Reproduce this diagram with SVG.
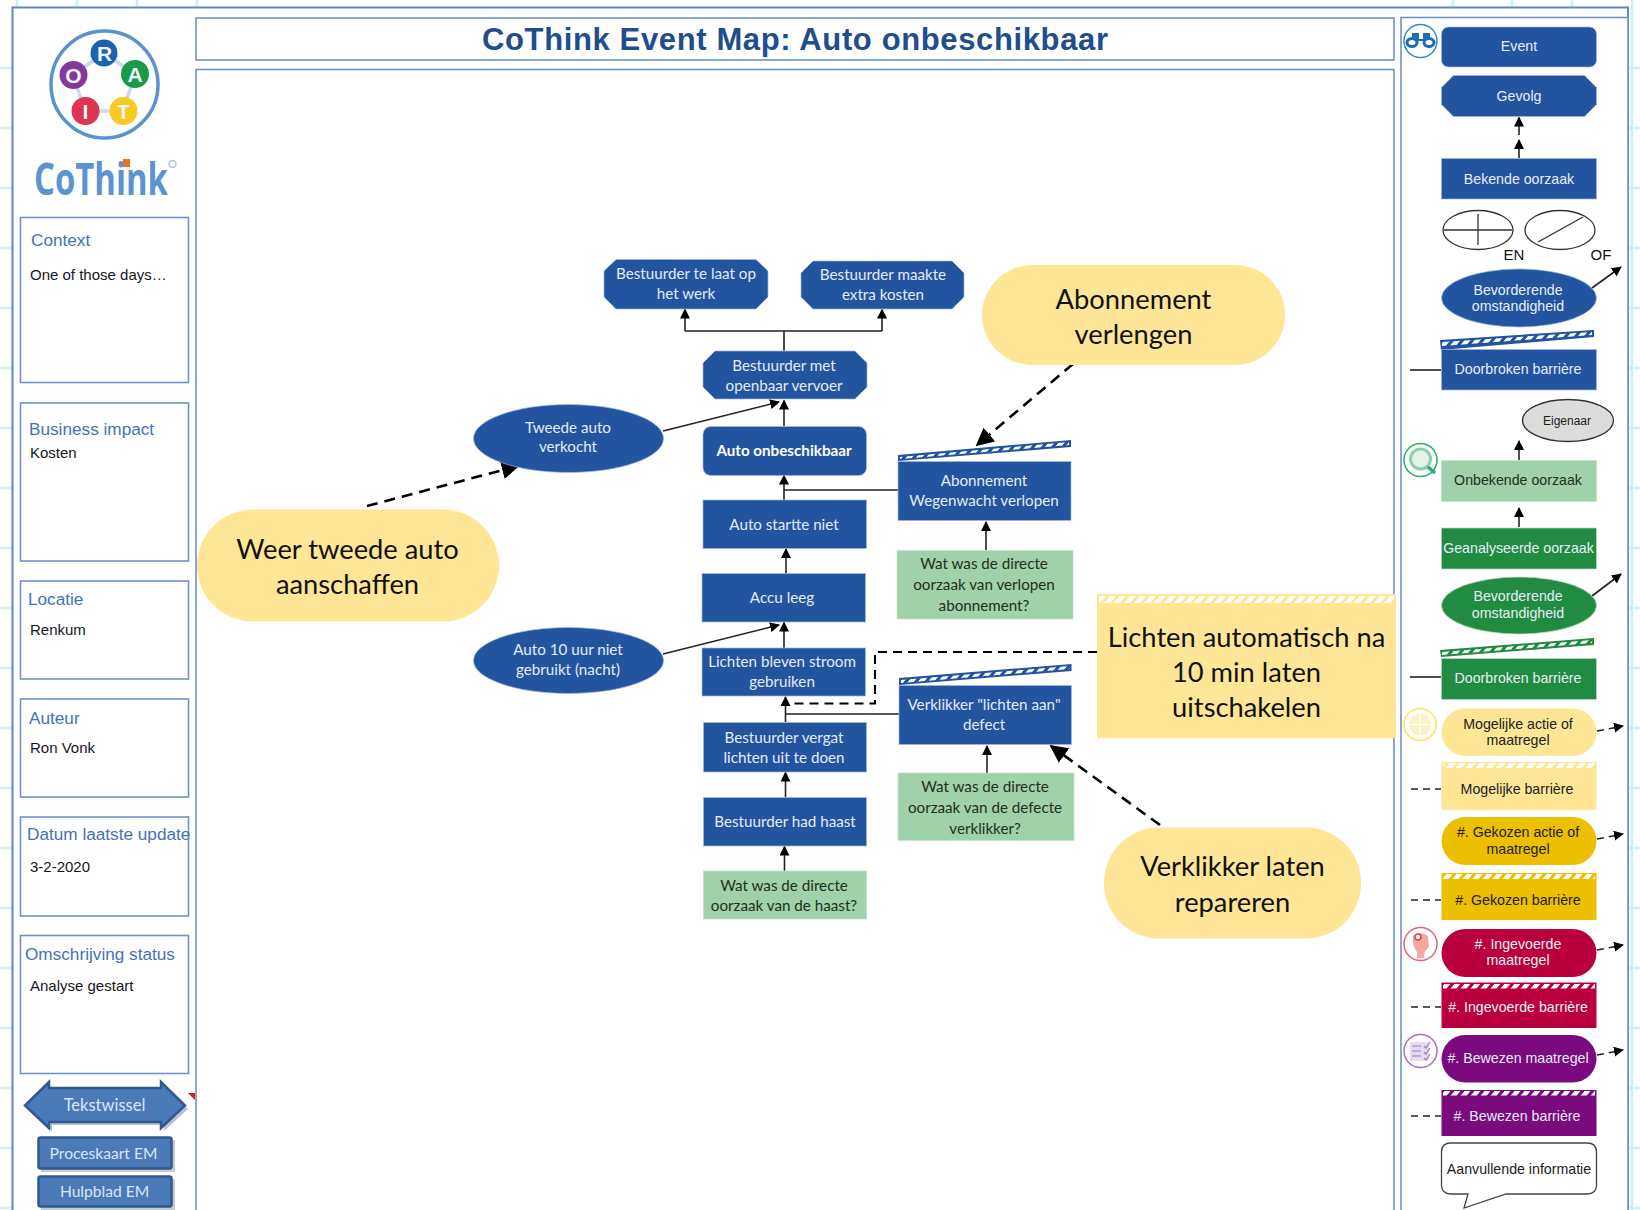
<svg xmlns="http://www.w3.org/2000/svg" width="1640" height="1210" viewBox="0 0 1640 1210">
<style>
.frame{fill:#fff;stroke:#6f92cf;stroke-width:1.6}
.outer{fill:#fff;stroke:#5a86d0;stroke-width:2}
.grid{stroke:#cdeffa;stroke-width:2.5}
.b{fill:#22549f;stroke:#9db8e0;stroke-width:.7}
.gr{fill:#9fd1aa;stroke:#c4e3cb;stroke-width:.7}
.dg{fill:#218b42;stroke:#b5dcc0;stroke-width:.7}
.t{font-family:Lato,"Liberation Sans",sans-serif;font-size:15.2px;text-anchor:middle;fill:#e4ecf8}
.td{fill:#20301f}
.big{font-family:Lato,"Liberation Sans",sans-serif;font-size:27.3px;text-anchor:middle;fill:#111}
.y{fill:#ffe697}
.l{font-family:"Liberation Sans",sans-serif;font-size:14.2px;text-anchor:middle;fill:#e8eef8}
.ld{fill:#1c1c1c}
.h{font-family:"Liberation Sans",sans-serif;font-size:17.2px;fill:#4472b8}
.p{font-family:"Liberation Sans",sans-serif;font-size:15px;fill:#16161e}
.btn{font-family:Lato,"Liberation Sans",sans-serif;font-size:15.6px;text-anchor:middle;fill:#dbe6f5}
.c{fill:none;stroke:#222;stroke-width:1.6}
.d{fill:none;stroke:#000;stroke-width:2.6;stroke-dasharray:11 7}
.d1{fill:none;stroke:#000;stroke-width:2.1;stroke-dasharray:9 6}
.d2{fill:none;stroke:#222;stroke-width:1.6;stroke-dasharray:7 5}
.a{marker-end:url(#ah)}
.hatch{fill:url(#hatch)}
</style>
<defs>
<marker id="ah" viewBox="0 0 10 10" refX="9" refY="5" markerWidth="10" markerHeight="10" markerUnits="userSpaceOnUse" orient="auto"><path d="M0 0L10 5L0 10Z" fill="#000"/></marker>
<marker id="ahb" viewBox="0 0 10 10" refX="9" refY="5" markerWidth="18" markerHeight="18" markerUnits="userSpaceOnUse" orient="auto"><path d="M0 0L10 5L0 10Z" fill="#000"/></marker>
<pattern id="hatch" width="10" height="10" patternUnits="userSpaceOnUse" patternTransform="skewX(-40)"><rect width="6" height="10" fill="#fff"/></pattern>
</defs>

<g id="grid">
<path class="grid" d="M17 0V1210M77 0V1210M137 0V1210M197 0V1210M1453 0V10M1512 0V10M1572 0V10M1632 0V1210M0 68H1640M0 128H1640M0 188H1640M0 248H1640M0 308H1640M0 368H1640M0 428H1640M0 488H1640M0 548H1640M0 608H1640M0 668H1640M0 728H1640M0 788H1640M0 848H1640M0 908H1640M0 968H1640M0 1028H1640M0 1088H1640M0 1148H1640M0 1208H1640"/>
</g>
<rect class="outer" x="12.500" y="7.500" width="1615.500" height="1215"/>
<rect class="frame" x="196" y="18" width="1198" height="42"/>
<rect class="frame" x="196" y="69.500" width="1198" height="1160"/>
<rect class="frame" x="1401" y="17.500" width="227" height="1210"/>
<text id="title" x="795" y="50" font-family="Liberation Sans,sans-serif" font-weight="700" font-size="31" fill="#1f4e8c" text-anchor="middle" textLength="626" lengthAdjust="spacing">CoThink Event Map: Auto onbeschikbaar</text>

<g id="logo">
<circle cx="104.500" cy="84.500" r="53.500" fill="#fff" stroke="#5a94cf" stroke-width="3.500"/>
<path d="M104 53L135 74L123 111H85L73 75Z" fill="none" stroke="#c9d9ef" stroke-width="3.500"/>
<circle cx="104" cy="53" r="13.500" fill="#1d62ae"/><circle cx="135" cy="74" r="14" fill="#1a9a4a"/><circle cx="123.500" cy="111" r="14" fill="#fcc923"/><circle cx="85.500" cy="111" r="14" fill="#df3450"/><circle cx="73.500" cy="75" r="14" fill="#83399b"/>
<g font-family="Liberation Sans,sans-serif" font-size="21" font-weight="700" fill="#eef4fa" text-anchor="middle"><text x="104.500" y="61">R</text><text x="135" y="82">A</text><text x="123.500" y="119">T</text><text x="85.500" y="119">I</text><text x="73.500" y="83">O</text></g>
<text x="34" y="195" font-family="Open Sans,Liberation Sans,sans-serif" font-weight="700" font-size="44" fill="#5b94cf" textLength="134" lengthAdjust="spacingAndGlyphs">CoThink</text>
<rect x="123" y="159" width="7" height="8" fill="#f07020"/>
<circle cx="172.500" cy="164" r="3.500" fill="none" stroke="#a9c5e4" stroke-width="1.500"/>
</g>

<g id="context"><rect class="frame" x="20.500" y="217.500" width="168" height="165"/><text class="h" x="31" y="246">Context</text><text class="p" x="30" y="280">One of those days…</text></g>
<g id="impact"><rect class="frame" x="20.500" y="403" width="168" height="158"/><text class="h" x="29" y="435">Business impact</text><text class="p" x="30" y="458">Kosten</text></g>
<g id="locatie"><rect class="frame" x="20.500" y="581" width="168" height="98"/><text class="h" x="28" y="605">Locatie</text><text class="p" x="30" y="635">Renkum</text></g>
<g id="auteur"><rect class="frame" x="20.500" y="699" width="168" height="98"/><text class="h" x="29" y="724">Auteur</text><text class="p" x="30" y="753">Ron Vonk</text></g>
<g id="datum"><rect class="frame" x="20.500" y="817" width="168" height="99"/><text class="h" x="27" y="840">Datum laatste update</text><text class="p" x="30" y="872">3-2-2020</text></g>
<g id="status"><rect class="frame" x="20.500" y="935.500" width="168" height="138"/><text class="h" x="25" y="960">Omschrijving status</text><text class="p" x="30" y="991">Analyse gestart</text></g>

<g id="tekstwissel"><path d="M28 1109L52 1086V1092H164V1086L188 1109L164 1131V1125H52V1131Z" fill="#8a9ab0" opacity=".6"/><path d="M25 1105.500L49 1082V1088H161V1082L185 1105.500L161 1128V1122H49V1128Z" fill="#4a7ab8" stroke="#31598c" stroke-width="2.500"/><text class="btn" x="104.500" y="1111" style="font-size:16.500px">Tekstwissel</text></g>
<path id="marker" d="M188 1093H195V1100Z" fill="#e8141c"/>
<g id="proceskaart"><rect x="41" y="1140" width="134" height="32" fill="#9aa6b8" opacity=".6"/><rect x="38.500" y="1137.500" width="133" height="31" rx="2" fill="#4a7ab8" stroke="#31598c" stroke-width="2.500"/><text class="btn" x="103.500" y="1159">Proceskaart EM</text></g>
<g id="hulpblad"><rect x="41" y="1179" width="134" height="31" fill="#9aa6b8" opacity=".6"/><rect x="38.500" y="1176.500" width="133" height="30" rx="2" fill="#4a7ab8" stroke="#31598c" stroke-width="2.500"/><text class="btn" x="104.500" y="1197">Hulpblad EM</text></g>

<g id="connectors">
<path class="c" d="M784 351V331M685 331H882"/>
<path class="c a" d="M685 331V309.500"/><path class="c a" d="M882 331V309.500"/>
<path class="c a" d="M784 426V400.500"/>
<path class="c a" d="M663 431L779 402"/>
<path class="c a" d="M784 500V475.500"/>
<path class="c" d="M898 490H784"/>
<path class="c a" d="M786 573V549"/>
<path class="c a" d="M784 648V622.500"/>
<path class="c a" d="M663 654L779 625"/>
<path class="c a" d="M785.500 722V697"/>
<path class="c" d="M899 714H785.500"/>
<path class="c a" d="M785.500 797V772.500"/>
<path class="c a" d="M784.500 871V846.500"/>
<path class="c a" d="M986 550V522"/>
<path class="c a" d="M987 773V746"/>
<path class="d" d="M1073 364L977 445" marker-end="url(#ahb)"/>
<path class="d" d="M367 506L518 466" marker-end="url(#ahb)"/>
<path class="d" d="M1160 825L1051 746" marker-end="url(#ahb)"/>
<path class="d1" d="M1097 652H875V703.500H790"/>
<path class="c a" d="M1519 135V117.500"/><path class="c a" d="M1519 158V140"/>
<path class="c a" d="M1592 288L1621 267"/>
<path class="c" d="M1410 370H1441"/>
<path class="c a" d="M1519 460V441"/>
<path class="c a" d="M1519 527V508"/>
<path class="c a" d="M1592 596L1621 574"/>
<path class="c" d="M1410 677H1441"/>
<path class="d2 a" d="M1597 731L1623 726"/>
<path class="d2" d="M1411 789H1441"/>
<path class="d2 a" d="M1597 839L1623 834"/>
<path class="d2" d="M1411 900H1441"/>
<path class="d2 a" d="M1597 950L1623 945"/>
<path class="d2" d="M1411 1007H1441"/>
<path class="d2 a" d="M1597 1055L1623 1050"/>
<path class="d2" d="M1411 1116H1441"/>
</g>

<g id="n-laat"><polygon class="b" points="616,259.500 756,259.500 768,271 768,297 756,309 616,309 604,297 604,271"/><text class="t" x="686" y="279">Bestuurder te laat op</text><text class="t" x="686" y="299">het werk</text></g>
<g id="n-kosten"><polygon class="b" points="813,261 952,261 964,273 964,297 952,309 813,309 801,297 801,273"/><text class="t" x="883" y="280">Bestuurder maakte</text><text class="t" x="883" y="300">extra kosten</text></g>
<g id="n-ov"><polygon class="b" points="715,351 855,351 867,363 867,387 855,399 715,399 703,387 703,363"/><text class="t" x="784" y="371">Bestuurder met</text><text class="t" x="784" y="391">openbaar vervoer</text></g>
<g id="n-event"><rect class="b" x="703" y="426.500" width="163.500" height="49" rx="8"/><text class="t" x="784" y="456" font-weight="700" style="fill:#fff">Auto onbeschikbaar</text></g>
<g id="n-startte"><rect class="b" x="703" y="500" width="163.500" height="48.500"/><text class="t" x="784" y="530">Auto startte niet</text></g>
<g id="n-accu"><rect class="b" x="702" y="573.500" width="163.500" height="48.500"/><text class="t" x="782" y="603">Accu leeg</text></g>
<g id="n-lichten"><rect class="b" x="702" y="648" width="163.500" height="48"/><text class="t" x="782" y="667">Lichten bleven stroom</text><text class="t" x="782" y="687">gebruiken</text></g>
<g id="n-vergat"><rect class="b" x="703.500" y="722.500" width="163" height="49.500"/><text class="t" x="784" y="743">Bestuurder vergat</text><text class="t" x="784" y="763">lichten uit te doen</text></g>
<g id="n-haast"><rect class="b" x="703.500" y="797.500" width="163" height="48.500"/><text class="t" x="785" y="827">Bestuurder had haast</text></g>
<g id="n-q1"><rect class="gr" x="703.500" y="871" width="163" height="48"/><text class="t td" x="784" y="891">Wat was de directe</text><text class="t td" x="784" y="911">oorzaak van de haast?</text></g>
<g id="n-tweede"><ellipse class="b" cx="568.500" cy="438.500" rx="95" ry="34"/><text class="t" x="568" y="433">Tweede auto</text><text class="t" x="568" y="452">verkocht</text></g>
<g id="n-10uur"><ellipse class="b" cx="568.500" cy="660.500" rx="95" ry="33"/><text class="t" x="568" y="655">Auto 10 uur niet</text><text class="t" x="568" y="675">gebruikt (nacht)</text></g>
<g id="n-abon"><polygon points="898,455 1071,440 1071,447 898,461" fill="#22549f"/><polygon class="hatch" points="900,457 1069,442 1069,445 900,459"/><rect class="b" x="898" y="461.500" width="173" height="59"/><text class="t" x="984" y="486">Abonnement</text><text class="t" x="984" y="506">Wegenwacht verlopen</text></g>
<g id="n-q2"><rect class="gr" x="897" y="550.500" width="176" height="68.500"/><text class="t td" x="984" y="569">Wat was de directe</text><text class="t td" x="984" y="590">oorzaak van verlopen</text><text class="t td" x="984" y="611">abonnement?</text></g>
<g id="n-verkl"><polygon points="899,678 1071.500,664 1071.500,671 899,685" fill="#22549f"/><polygon class="hatch" points="901,680 1069.500,666 1069.500,669 901,683"/><rect class="b" x="899" y="685.500" width="172.500" height="59"/><text class="t" x="984" y="710">Verklikker "lichten aan"</text><text class="t" x="984" y="730">defect</text></g>
<g id="n-q3"><rect class="gr" x="898" y="773" width="176" height="67.500"/><text class="t td" x="985" y="792">Wat was de directe</text><text class="t td" x="985" y="813">oorzaak van de defecte</text><text class="t td" x="985" y="834">verklikker?</text></g>

<g id="a-abon"><rect class="y" x="982" y="265" width="303" height="100" rx="50"/><text class="big" x="1133.500" y="309">Abonnement</text><text class="big" x="1133.500" y="344">verlengen</text></g>
<g id="a-tweede"><rect class="y" x="197" y="509.500" width="302" height="112" rx="56"/><text class="big" x="347.500" y="559">Weer tweede auto</text><text class="big" x="347.500" y="594">aanschaffen</text></g>
<g id="a-lichten"><rect class="y" x="1097" y="594" width="299" height="144"/><rect class="hatch" x="1099" y="596" width="295" height="7"/><text class="big" x="1246.500" y="647">Lichten automatisch na</text><text class="big" x="1246.500" y="682">10 min laten</text><text class="big" x="1246.500" y="717">uitschakelen</text></g>
<g id="a-verkl"><rect class="y" x="1104" y="827.500" width="257" height="111" rx="55"/><text class="big" x="1232.500" y="876">Verklikker laten</text><text class="big" x="1232.500" y="912">repareren</text></g>

<g id="l-event"><rect class="b" x="1441.500" y="27" width="155" height="40" rx="7"/><text class="l" x="1519" y="51">Event</text></g>
<g id="l-gevolg"><polygon class="b" points="1453.500,75.500 1584.500,75.500 1596.500,87.500 1596.500,104.500 1584.500,116.500 1453.500,116.500 1441.500,104.500 1441.500,87.500"/><text class="l" x="1519" y="101">Gevolg</text></g>
<g id="l-bekend"><rect class="b" x="1441.500" y="158.500" width="155" height="40.500"/><text class="l" x="1519" y="184">Bekende oorzaak</text></g>
<g id="l-en"><ellipse cx="1478" cy="230" rx="35" ry="19.500" fill="#fff" stroke="#333" stroke-width="1.300"/><path d="M1444 230H1512M1478 214V245" stroke="#333" stroke-width="1.300" fill="none"/><text x="1514" y="260" font-family="Liberation Sans,sans-serif" font-size="15" fill="#111" text-anchor="middle">EN</text></g>
<g id="l-of"><ellipse cx="1560" cy="230" rx="35" ry="19.500" fill="#fff" stroke="#333" stroke-width="1.300"/><path d="M1538 242L1583 217" stroke="#333" stroke-width="1.300" fill="none"/><text x="1601" y="260" font-family="Liberation Sans,sans-serif" font-size="15" fill="#111" text-anchor="middle">OF</text></g>
<g id="l-bev1"><ellipse class="b" cx="1519" cy="298" rx="77.500" ry="29"/><text class="l" x="1518" y="295">Bevorderende</text><text class="l" x="1518" y="311">omstandigheid</text></g>
<g id="l-barr1"><polygon points="1440,340 1594,330 1594,337 1441,350" fill="#22549f"/><polygon class="hatch" points="1442,342 1592,332 1592,335 1442,346"/><rect class="b" x="1441.500" y="349.500" width="155" height="40.500"/><text class="l" x="1518" y="374">Doorbroken barrière</text></g>
<g id="l-eig"><ellipse cx="1568" cy="420.500" rx="45.500" ry="21" fill="#dcdcdc" stroke="#333" stroke-width="1.300"/><text class="l ld" x="1567" y="425" style="font-size:12px">Eigenaar</text></g>
<g id="l-onb"><rect class="gr" x="1441.500" y="460.500" width="155" height="41"/><text class="l" x="1518" y="485" style="fill:#20301f">Onbekende oorzaak</text></g>
<g id="l-gean"><rect class="dg" x="1441.500" y="528" width="155" height="41"/><text class="l" x="1518.500" y="553">Geanalyseerde oorzaak</text></g>
<g id="l-bev2"><ellipse class="dg" cx="1519" cy="605.500" rx="77.500" ry="28.500"/><text class="l" x="1518" y="601">Bevorderende</text><text class="l" x="1518" y="618">omstandigheid</text></g>
<g id="l-barr2"><polygon points="1440,650 1594,638 1594,645 1441,657" fill="#218b42"/><polygon class="hatch" points="1442,652 1592,640 1592,643 1442,655"/><rect class="dg" x="1441.500" y="658.500" width="155" height="41"/><text class="l" x="1518" y="683">Doorbroken barrière</text></g>
<g id="l-actie"><rect class="y" x="1441.500" y="708.500" width="155" height="47.500" rx="23.700"/><text class="l ld" x="1518" y="729">Mogelijke actie of</text><text class="l ld" x="1518" y="745">maatregel</text></g>
<g id="l-mb"><rect class="y" x="1441.500" y="762" width="155" height="48"/><rect class="hatch" x="1443" y="763" width="152" height="5"/><text class="l ld" x="1517" y="794">Mogelijke barrière</text></g>
<g id="l-gek"><rect x="1441.500" y="817" width="155" height="48" rx="24" fill="#ecbf00"/><text class="l ld" x="1518" y="837">#. Gekozen actie of</text><text class="l ld" x="1518" y="854">maatregel</text></g>
<g id="l-gekb"><rect x="1441.500" y="873" width="155" height="47" fill="#ecbf00"/><rect class="hatch" x="1443" y="874" width="152" height="5"/><text class="l ld" x="1518" y="905">#. Gekozen barrière</text></g>
<g id="l-ing"><rect x="1441.500" y="929" width="155" height="48" rx="24" fill="#b9003c"/><text class="l" x="1518" y="949">#. Ingevoerde</text><text class="l" x="1518" y="965">maatregel</text></g>
<g id="l-ingb"><rect x="1441.500" y="982.500" width="155" height="45.500" fill="#b9003c"/><rect class="hatch" x="1443" y="984" width="152" height="4.500"/><text class="l" x="1518" y="1012">#. Ingevoerde barrière</text></g>
<g id="l-bew"><rect x="1441.500" y="1035" width="155" height="47.500" rx="23.700" fill="#7a0a7d"/><text class="l" x="1518" y="1063">#. Bewezen maatregel</text></g>
<g id="l-bewb"><rect x="1441.500" y="1090" width="155" height="46" fill="#7a0a7d"/><rect class="hatch" x="1443" y="1091" width="152" height="4.500"/><text class="l" x="1517" y="1121">#. Bewezen barrière</text></g>
<g id="l-info"><path d="M1451 1143H1587Q1596.500 1143 1596.500 1152V1185Q1596.500 1194 1587 1194H1506L1464 1208L1468 1194H1451Q1441.500 1194 1441.500 1185V1152Q1441.500 1143 1451 1143Z" fill="#fff" stroke="#444" stroke-width="1.300"/><text class="l ld" x="1519" y="1174">Aanvullende informatie</text></g>

<g id="i-bino"><circle cx="1420.500" cy="41" r="16.500" fill="#fff" stroke="#3f88c8" stroke-width="1.500"/><rect x="1412" y="33" width="7" height="6" fill="#1f6cb0"/><rect x="1423" y="33" width="7" height="6" fill="#1f6cb0"/><ellipse cx="1412" cy="42.500" rx="5" ry="4" fill="#fff" stroke="#1f6cb0" stroke-width="3"/><ellipse cx="1429" cy="42.500" rx="5" ry="4" fill="#fff" stroke="#1f6cb0" stroke-width="3"/><path d="M1417 40H1424" stroke="#1f6cb0" stroke-width="2"/></g>
<g id="i-loep"><circle cx="1420.500" cy="460" r="16.500" fill="#fff" stroke="#29ad6a" stroke-width="1.500"/><circle cx="1420.500" cy="459" r="10" fill="#e4f3ea" stroke="#8fd0ac" stroke-width="3"/><path d="M1428 467L1435 473" stroke="#29ad6a" stroke-width="3.500"/></g>
<g id="i-doel"><circle cx="1420" cy="724.500" r="16" fill="#fff" stroke="#fde24f" stroke-width="1.500"/><circle cx="1420" cy="724.500" r="10" fill="#fdf2c6" stroke="#fbeeb5" stroke-width="1.500"/><path d="M1420 710V739M1405 724.500H1435" stroke="#fff" stroke-width="1"/></g>
<g id="i-hand"><circle cx="1420.500" cy="944" r="16.500" fill="#fff" stroke="#e9607f" stroke-width="1.500"/><path d="M1413 936Q1420 930 1428 936L1429 947Q1425 950 1424 955V958H1417V952Q1412 946 1413 936Z" fill="#f3a8a2"/><circle cx="1418" cy="937" r="3" fill="#fff" stroke="#e04050" stroke-width="1.500"/></g>
<g id="i-lijst"><circle cx="1420.500" cy="1051" r="16.500" fill="#fff" stroke="#b06cc0" stroke-width="1.500"/><rect x="1410" y="1042" width="19" height="19" fill="#e7daf0"/><path d="M1412 1046H1421M1412 1051H1421M1412 1056H1421M1424 1046L1426 1048L1430 1042M1424 1052L1426 1054L1430 1048M1424 1058L1426 1060L1430 1054" stroke="#a17cb8" stroke-width="1.200" fill="none"/></g>
</svg>
